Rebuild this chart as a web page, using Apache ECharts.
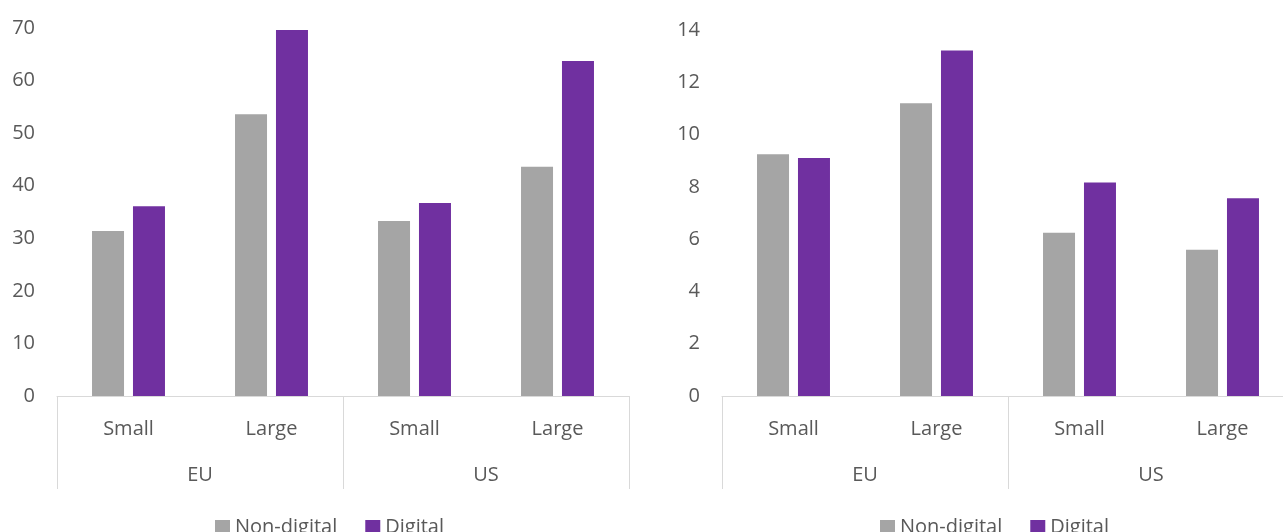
<!DOCTYPE html>
<html>
<head>
<meta charset="utf-8">
<script src="https://cdn.jsdelivr.net/npm/echarts@6/dist/echarts.min.js"></script>
<style>html,body{margin:0;padding:0;background:#fff;overflow:hidden;}#c{width:1300px;height:532px;}</style>
</head>
<body>
<div id="c"></div>
<script>
const sizes = ['Small', 'Large', 'Small', 'Large'];
const regions = ['EU', 'US'];
const seriesNames = ['Non-digital', 'Digital'];
const leftNonDigital = [31.4, 53.6, 33.3, 43.6];
const leftDigital = [36.1, 69.6, 36.7, 63.7];
const rightNonDigital = [9.25, 11.2, 6.24, 5.59];
const rightDigital = [9.1, 13.22, 8.17, 7.56];

const FONT = 'Open Sans';
const FS = 20;
const TXT = '#595959';
const LINE = '#d9d9d9';
const GRAY = '#A5A5A5';
const PURPLE = '#7030A0';

const grids = [
  {left: 57, width: 572, top: 28, height: 368},
  {left: 722, width: 572, top: 30, height: 366}
];

function xAxes(gi) {
  return [
    {type: 'category', gridIndex: gi, data: sizes, position: 'bottom',
     axisLine: {show: true, lineStyle: {color: LINE, width: 1}},
     axisTick: {show: false},
     axisLabel: {color: TXT, fontFamily: FONT, fontSize: FS, margin: 23}},
    {type: 'category', gridIndex: gi, data: regions, position: 'bottom',
     axisLine: {show: false},
     axisTick: {show: true, length: 93, interval: 0, lineStyle: {color: LINE, width: 1}},
     axisLabel: {color: TXT, fontFamily: FONT, fontSize: FS, margin: 69}}
  ];
}
function yAxis(gi, max, interval) {
  return {type: 'value', gridIndex: gi, min: 0, max: max, interval: interval,
    axisLine: {show: false}, axisTick: {show: false}, splitLine: {show: false},
    axisLabel: {color: TXT, fontFamily: FONT, fontSize: FS, margin: 22}};
}
function bar(name, data, color, xi, yi) {
  return {type: 'bar', name: name, data: data, xAxisIndex: xi, yAxisIndex: yi,
    barWidth: 32, barGap: '28%', itemStyle: {color: color}};
}
function legend(left) {
  return {left: left, top: 512, itemWidth: 15, itemHeight: 14, itemGap: 28, icon: 'rect',
    textStyle: {color: TXT, fontFamily: FONT, fontSize: FS}, data: seriesNames};
}

const option = {
  animation: false,
  grid: grids,
  xAxis: [...xAxes(0), ...xAxes(1)],
  yAxis: [yAxis(0, 70, 10), yAxis(1, 14, 2)],
  legend: [legend(210), legend(875)],
  series: [
    bar(seriesNames[0], leftNonDigital, GRAY, 0, 0),
    bar(seriesNames[1], leftDigital, PURPLE, 0, 0),
    bar(seriesNames[0], rightNonDigital, GRAY, 2, 1),
    bar(seriesNames[1], rightDigital, PURPLE, 2, 1)
  ]
};

const chart = echarts.init(document.getElementById('c'), null, {renderer: 'canvas'});
chart.setOption(option);
</script>
</body>
</html>
